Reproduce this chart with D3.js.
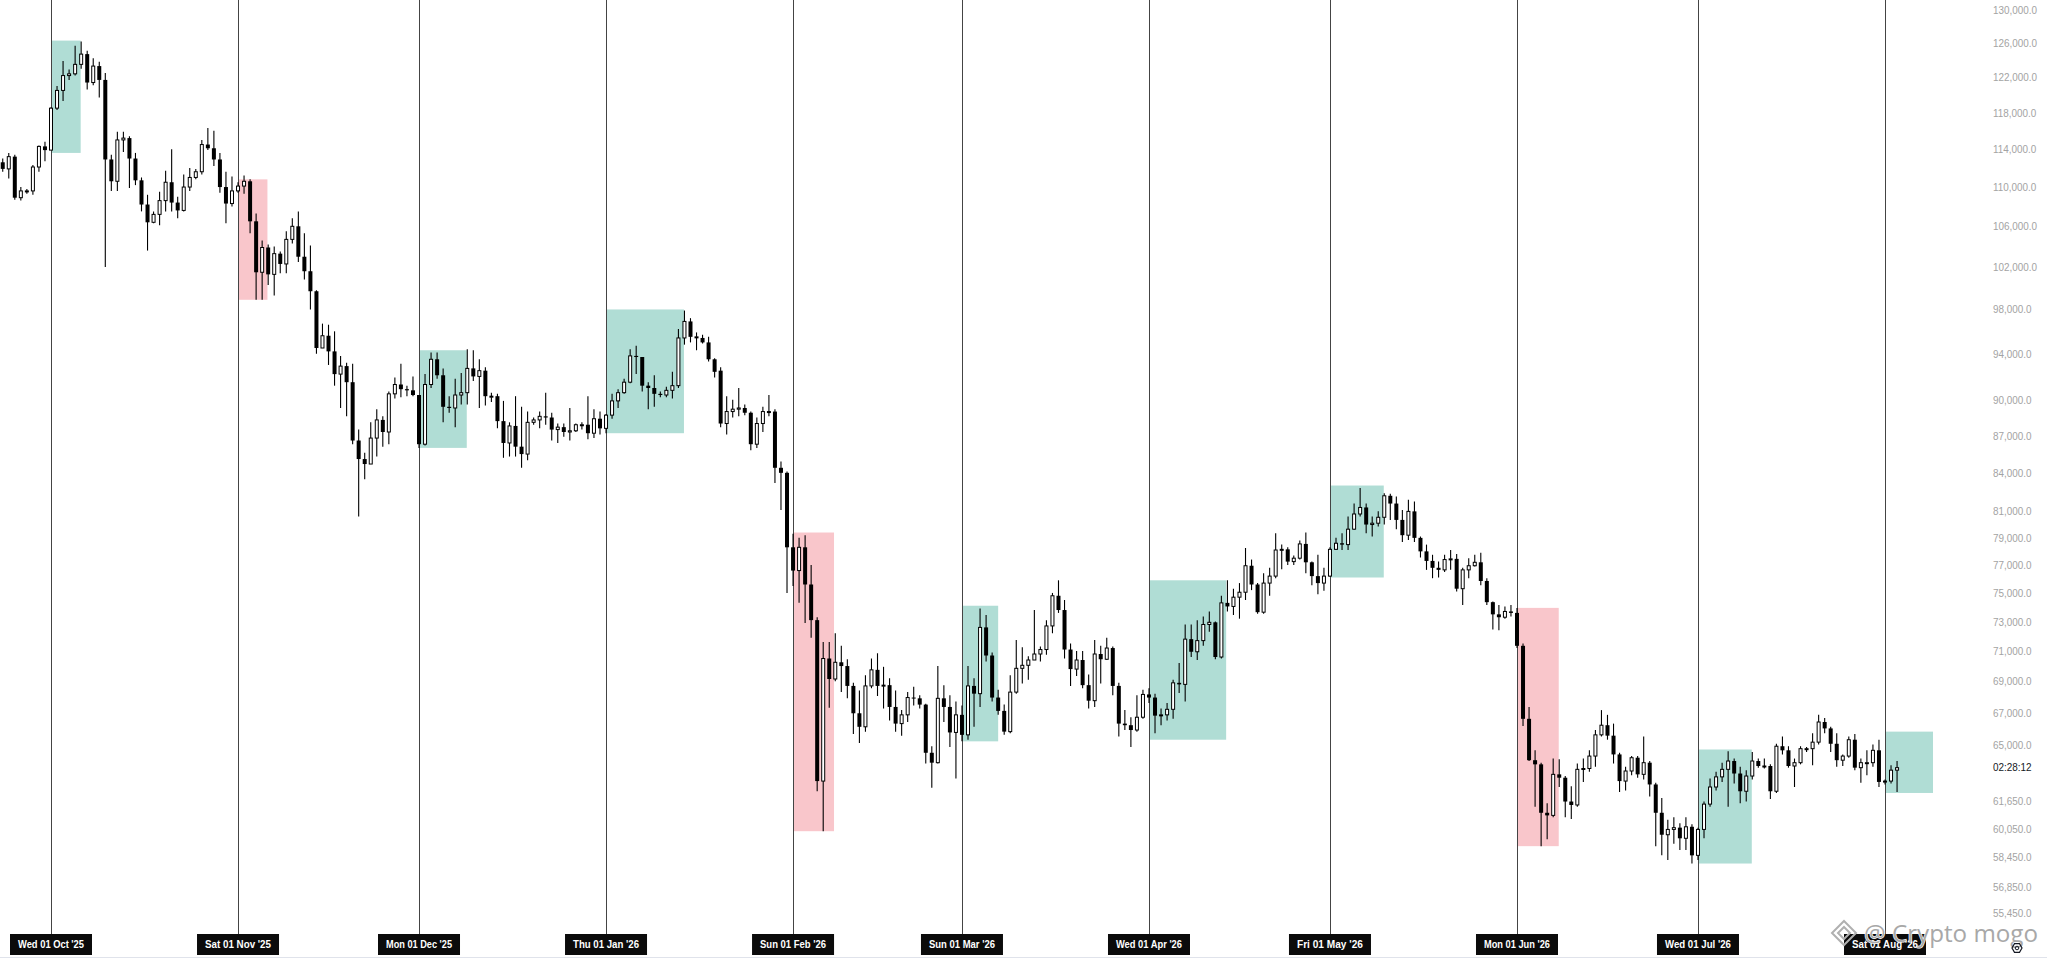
<!DOCTYPE html>
<html>
<head>
<meta charset="utf-8">
<script src="https://d3js.org/d3.v7.min.js"></script>
<style>
  html, body { margin: 0; padding: 0; background: #fff; }
  svg { display: block; }
</style>
</head>
<body>
<svg id="chart"></svg>
<script>
// Daily candles, prices in thousands of USD: [open, high, low, close]
const firstDay = "2025-09-23";

const sep25 = [
  [112.6,113.0,111.6,111.9],[111.9,113.6,110.9,113.2],[113.2,113.4,108.7,108.9],[108.9,110.0,108.6,109.6],
  [109.6,109.8,109.3,109.6],[109.6,112.3,109.2,112.1],[112.1,114.4,111.6,114.3],[114.3,114.8,112.7,113.9]
];
const oct25 = [
  [113.9,118.6,113.9,118.5],[118.5,121.0,118.3,120.5],[120.5,123.9,119.3,122.2],[122.2,122.9,121.7,122.4],
  [122.4,125.7,122.2,123.5],[123.5,126.2,123.0,124.7],[124.7,125.1,120.6,121.4],[121.4,124.2,121.1,123.3],
  [123.3,123.8,119.7,121.7],[121.7,122.5,102.0,112.9],[112.9,113.4,109.6,110.6],[110.6,115.9,109.6,115.0],
  [115.0,115.9,113.7,115.2],[115.2,115.4,109.9,113.0],[113.0,113.6,110.2,110.7],[110.7,111.0,107.5,108.2],
  [108.2,109.2,103.6,106.4],[106.4,107.5,106.3,107.2],[107.2,109.5,106.1,108.6],[108.6,111.7,107.5,110.5],
  [110.5,114.0,107.5,108.4],[108.4,109.0,106.8,107.6],[107.6,111.3,107.5,110.0],[110.0,112.0,109.6,111.0],
  [111.0,111.9,110.8,111.6],[111.6,115.0,111.3,114.5],[114.5,116.3,113.9,114.1],[114.1,116.0,112.2,112.9],
  [112.9,113.6,109.4,110.0],[110.0,111.6,106.3,108.3],[108.3,111.1,108.0,109.6]
];
const nov25 = [
  [109.6,110.5,109.4,110.1],[110.1,111.2,109.3,110.6],[110.6,110.8,105.3,106.5],[106.5,107.3,98.9,101.5],
  [101.5,104.6,98.9,103.9],[103.9,104.2,100.3,101.3],[101.3,104.0,99.3,103.3],[103.3,103.5,101.4,102.3],
  [102.3,105.5,101.4,104.7],[104.7,106.8,104.3,106.0],[106.0,107.5,102.5,103.0],[103.0,105.3,100.8,101.6],
  [101.6,104.1,98.0,99.7],[99.7,99.8,94.0,94.5],[94.5,96.7,94.5,95.6],[95.6,96.6,93.0,94.2],
  [94.2,96.0,91.2,92.2],[92.2,93.8,89.3,92.9],[92.9,93.2,88.6,91.5],[91.5,93.1,86.3,86.6],
  [86.6,87.5,80.6,85.1],[85.1,85.6,83.5,84.7],[84.7,88.1,84.7,86.8],[86.8,89.2,85.3,88.3],
  [88.3,88.6,86.1,87.3],[87.3,90.7,86.3,90.5],[90.5,91.9,90.1,91.3],[91.3,93.1,90.2,90.9],
  [90.9,91.2,90.3,90.8],[90.8,92.0,90.3,90.4]
];
const dec25 = [
  [90.4,90.4,86.0,86.3],[86.3,92.2,86.2,91.3],[91.3,94.1,91.0,93.5],[93.5,94.1,91.8,92.1],
  [92.1,92.7,88.1,89.4],[89.4,90.3,88.9,89.3],[89.3,91.8,87.7,90.4],[90.4,92.3,89.6,90.6],
  [90.6,94.4,89.6,92.7],[92.7,94.3,91.6,92.0],[92.0,93.5,89.3,92.5],[92.5,92.8,89.5,90.3],
  [90.3,90.6,89.8,90.3],[90.3,90.5,87.6,88.2],[88.2,89.9,85.2,86.4],[86.4,88.1,85.3,87.8],
  [87.8,90.3,85.3,86.1],[86.1,89.4,84.4,85.5],[85.5,89.0,85.0,88.1],[88.1,88.5,87.9,88.3],
  [88.3,89.0,87.6,88.6],[88.6,90.6,87.9,88.5],[88.5,88.9,86.6,87.5],[87.5,88.0,86.4,87.7],
  [87.7,88.0,86.9,87.3],[87.3,89.3,86.6,87.4],[87.4,88.0,87.3,87.9],[87.9,88.1,87.5,87.9],
  [87.9,90.3,86.7,87.2],[87.2,89.2,86.8,88.4],[88.4,89.0,87.1,87.6]
];
const jan26 = [
  [87.6,88.8,87.2,88.7],[88.7,90.5,88.4,89.9],[89.9,90.9,89.3,90.6],[90.6,91.8,90.5,91.5],
  [91.5,94.4,91.4,93.8],[93.8,94.7,92.2,93.7],[93.7,93.7,90.7,91.2],[91.2,91.5,89.2,91.0],
  [91.0,92.1,89.4,90.5],[90.5,90.7,90.2,90.4],[90.4,91.1,90.2,90.8],[90.8,92.4,90.1,91.2],
  [91.2,96.2,91.0,95.4],[95.4,97.9,94.8,96.9],[96.9,97.2,95.0,95.5],[95.5,95.9,94.3,95.5],
  [95.4,95.7,94.9,95.0],[95.0,95.5,93.3,93.5],[93.5,93.6,91.9,92.4],[92.5,92.8,87.7,88.0],
  [88.0,90.3,87.1,89.0],[89.0,90.0,88.5,89.2],[89.2,91.0,88.6,89.3],[89.3,89.6,88.7,88.9],
  [88.9,89.0,85.8,86.3],[86.3,88.5,86.0,88.0],[88.0,89.4,87.3,89.0],[89.0,90.4,88.6,89.0],
  [89.0,89.2,83.2,84.4],[84.4,84.9,81.1,84.0],[84.0,84.1,75.0,78.3]
];
const feb26 = [
  [78.3,79.3,75.5,76.6],[76.6,79.0,74.3,78.3],[78.3,79.2,72.9,75.6],[75.6,77.0,71.9,73.1],
  [73.1,73.3,62.2,62.8],[62.8,71.6,59.9,70.5],[70.5,71.6,67.3,69.15],[69.15,72.2,69.0,70.25],
  [70.25,71.35,68.3,70.0],[70.0,70.45,67.9,68.7],[68.7,68.9,65.65,66.95],[66.95,68.4,65.1,66.1],
  [66.1,69.4,65.8,68.7],[68.7,70.5,68.55,69.75],[69.75,70.85,68.05,68.7],[68.7,69.95,67.25,68.75],
  [68.75,69.2,66.5,67.35],[67.35,68.4,65.8,66.3],[66.3,67.15,65.55,66.85],[66.85,68.3,66.4,67.95],
  [67.95,68.65,67.45,67.9],[67.9,68.1,67.25,67.5],[67.5,67.55,63.85,64.5],[64.5,64.9,62.4,63.9],
  [63.9,70.0,63.85,67.9],[67.9,68.75,66.4,67.35],[67.35,68.1,64.85,65.75],[65.75,67.7,62.95,66.85]
];
const mar26 = [
  [66.85,67.45,65.2,65.6],[65.6,70.0,65.3,68.7],[68.7,69.2,66.1,68.2],[68.2,73.9,67.35,72.6],
  [72.6,73.45,70.3,70.7],[70.7,70.9,67.7,67.95],[67.95,68.45,66.85,67.1],[67.1,67.5,65.6,65.8],
  [65.8,69.4,65.7,68.3],[68.3,71.75,68.2,69.85],[69.85,71.25,68.85,70.05],[70.05,70.65,69.1,70.4],
  [70.4,73.8,70.4,70.8],[70.8,71.3,70.3,71.1],[71.1,73.1,70.75,72.7],[72.7,75.0,72.2,74.8],
  [74.8,75.9,73.6,73.8],[73.8,74.5,70.5,71.1],[71.1,71.5,68.7,69.8],[69.8,71.0,69.35,70.4],
  [70.4,71.0,68.55,68.75],[68.75,69.45,67.25,67.75],[67.75,71.75,67.35,70.8],[70.8,71.35,68.85,70.45],
  [70.45,71.9,70.4,71.2],[71.2,71.3,68.1,68.7],[68.7,68.9,65.5,66.3],[66.3,67.15,65.9,66.2],
  [66.2,66.7,64.85,65.9],[65.9,68.1,65.8,66.7],[66.7,68.45,66.6,68.15]
];
const apr26 = [
  [68.15,68.55,67.6,67.95],[67.95,68.2,65.7,66.8],[66.8,67.25,66.2,66.85],[66.85,67.6,66.5,67.2],
  [67.2,69.1,66.6,68.9],[68.9,70.2,68.25,68.8],[68.8,72.8,67.7,71.8],[71.8,72.8,70.6,70.95],
  [70.95,73.1,70.4,71.7],[71.7,73.35,71.35,72.8],[72.8,73.7,72.3,72.95],[72.95,73.0,70.45,70.6],
  [70.6,74.8,70.5,74.3],[74.3,75.9,73.7,74.05],[74.05,75.3,73.45,74.7],[74.7,75.7,73.2,75.05],
  [75.05,78.25,74.5,76.95],[76.95,77.4,75.2,75.6],[75.6,75.7,73.55,73.65],[73.65,76.4,73.55,75.7],
  [75.7,76.8,74.8,76.2],[76.2,79.35,76.05,78.1],[78.1,78.5,76.7,78.15],[78.15,78.3,77.0,77.25],
  [77.25,77.7,77.0,77.5],[77.5,78.8,77.4,78.55],[78.55,79.4,76.4,77.2],[77.2,77.25,75.55,76.2],
  [76.2,77.75,74.9,75.7],[75.7,76.8,75.15,76.2]
];
const may26 = [
  [76.2,78.3,76.15,78.15],[78.15,79.0,78.1,78.6],[78.6,79.35,78.1,78.5],[78.5,80.6,78.1,79.65],
  [79.65,81.6,79.6,80.8],[80.8,82.8,80.6,81.3],[81.3,81.6,79.35,80.0],[80.0,80.6,79.1,80.1],
  [80.1,81.0,79.85,80.55],[80.55,82.4,80.0,82.2],[82.2,82.35,80.35,81.6],[81.6,82.15,79.65,80.35],
  [80.35,81.1,78.7,79.2],[79.2,81.9,78.85,81.0],[81.0,81.75,78.7,79.0],[79.0,79.1,77.55,78.0],
  [78.0,78.5,76.65,77.3],[77.3,77.75,76.05,76.8],[76.8,77.25,76.1,76.65],[76.65,77.75,76.5,77.4],
  [77.4,78.1,76.65,77.45],[77.45,77.8,75.1,75.3],[75.3,76.8,74.15,76.65],[76.65,77.5,76.05,76.95],
  [76.95,77.75,76.9,77.2],[77.2,77.9,75.55,75.85],[75.85,76.05,74.15,74.35],[74.35,74.4,72.45,73.5],
  [73.5,74.15,72.4,73.3],[73.3,74.05,73.2,73.7],[73.7,74.15,73.35,73.6]
];
const jun26 = [
  [73.6,73.95,71.2,71.35],[71.35,71.5,66.15,66.6],[66.6,67.35,64.0,64.05],[64.05,64.65,61.3,63.8],
  [63.8,63.9,59.05,60.95],[60.95,61.5,59.45,60.8],[60.8,64.15,60.7,63.2],[63.2,64.1,62.45,63.0],
  [63.0,63.1,60.7,61.6],[61.6,62.5,60.6,61.4],[61.4,63.85,61.3,63.5],[63.5,64.15,62.75,63.55],
  [63.55,64.65,63.35,64.3],[64.3,65.9,63.65,65.6],[65.6,67.15,65.5,66.2],[66.2,66.85,65.3,65.55],
  [65.55,66.3,63.85,64.4],[64.4,64.5,62.15,62.8],[62.8,63.65,62.25,63.4],[63.4,64.3,63.15,64.2],
  [64.2,64.3,63.0,63.2],[63.2,65.5,62.9,63.9],[63.9,64.0,61.9,62.6],[62.6,62.7,59.05,60.95],
  [60.95,61.8,58.55,59.7],[59.7,60.55,58.3,60.0],[60.0,60.7,59.2,60.1],[60.1,60.35,58.85,59.5],
  [59.5,60.7,58.85,60.15],[60.15,60.3,58.1,58.55]
];
const jul26 = [
  [58.55,60.1,58.3,60.0],[60.0,61.6,59.5,61.45],[61.45,62.95,61.3,62.45],[62.45,63.35,62.25,63.05],
  [63.05,63.9,62.75,63.5],[63.5,64.6,61.3,64.0],[64.0,64.15,62.65,63.25],[63.25,63.65,61.5,62.2],
  [62.2,63.45,61.6,63.1],[63.1,64.55,62.9,64.0],[64.0,64.15,63.6,63.7],[63.7,64.15,63.55,63.7],
  [63.7,63.8,61.75,62.2],[62.2,65.05,62.1,64.9],[64.9,65.5,64.4,64.65],[64.65,64.9,63.6,63.7],
  [63.7,64.15,62.45,63.9],[63.9,64.9,63.8,64.75],[64.75,64.85,64.55,64.75],[64.75,65.7,63.75,65.15],
  [65.15,66.85,65.0,66.4],[66.4,66.65,65.7,66.0],[66.0,66.1,64.55,65.05],[65.05,65.7,63.65,64.05],
  [64.05,64.4,63.7,64.3],[64.3,65.5,64.2,65.3],[65.3,65.65,63.45,63.6],[63.6,64.15,62.7,63.9],
  [63.9,64.65,63.15,63.9],[63.9,65.0,63.65,64.65],[64.65,65.3,62.45,62.75]
];
const aug26 = [
  [62.75,62.9,62.6,62.8],[62.8,63.75,62.65,63.45],[63.45,64.0,62.15,63.6]
];

// month separators and their labels
const monthStarts = ["2025-10-01","2025-11-01","2025-12-01","2026-01-01","2026-02-01","2026-03-01",
                     "2026-04-01","2026-05-01","2026-06-01","2026-07-01","2026-08-01"];

// opening-range boxes of each month (high / low in thousands)
const boxes = [
  { from: "2025-10-01", to: "2025-10-05T22:00Z", high: 126.3, low: 113.6, up: true },
  { from: "2025-11-01", to: "2025-11-05T21:00Z", high: 110.8, low: 98.9,  up: false },
  { from: "2025-12-01", to: "2025-12-08T22:00Z", high: 94.3,  low: 86.0,  up: true },
  { from: "2026-01-01", to: "2026-01-13T22:00Z", high: 98.0,  low: 87.2,  up: true },
  { from: "2026-02-01", to: "2026-02-07T19:00Z", high: 79.4,  low: 59.9,  up: false },
  { from: "2026-03-01", to: "2026-03-07T00:00Z", high: 74.1,  low: 65.2,  up: true },
  { from: "2026-04-01", to: "2026-04-13T19:00Z", high: 75.9,  low: 65.3,  up: true },
  { from: "2026-05-01", to: "2026-05-09T22:00Z", high: 83.0,  low: 76.1,  up: true },
  { from: "2026-06-01", to: "2026-06-07T22:00Z", high: 73.95, low: 59.06, up: false },
  { from: "2026-07-01", to: "2026-07-09T22:00Z", high: 64.7,  low: 58.1,  up: true },
  { from: "2026-08-01", to: "2026-08-08T23:00Z", high: 65.8,  low: 62.1,  up: true }
];

const priceTicks = [130, 126, 122, 118, 114, 110, 106, 102, 98, 94, 90, 87, 84, 81, 79, 77, 75,
                    73, 71, 69, 67, 65, 61.65, 60.05, 58.45, 56.85, 55.45];
const countdownText = "02:28:12";
const countdownPrice = 63.62;
const watermarkText = "@ Crypto mogo";

const W = 2047, H = 960;
const uiFont = "'Liberation Sans', Arial, sans-serif";

const svg = d3.select("#chart").attr("width", W).attr("height", H);
svg.append("rect").attr("width", W).attr("height", H).attr("fill", "#ffffff");

const months = [sep25, oct25, nov25, dec25, jan26, feb26, mar26, apr26, may26, jun26, jul26, aug26];
const start = new Date(firstDay);
const candles = [].concat(...months).map((d, i) => ({
  date: d3.utcDay.offset(start, i), o: d[0], h: d[1], l: d[2], c: d[3]
}));

const x = d3.scaleUtc()
  .domain([new Date("2025-10-01"), new Date("2026-08-01")])
  .range([51, 1885]);
const y = d3.scaleLog().domain([55.45, 130]).range([913, 10]);

// squeeze a text to a fraction of its natural width
function squeeze(sel, k) {
  sel.each(function () {
    const w = this.getComputedTextLength();
    d3.select(this).attr("textLength", w * k).attr("lengthAdjust", "spacingAndGlyphs");
  });
}

// boxes
svg.append("g").selectAll("rect")
  .data(boxes)
  .enter()
  .append("rect")
  .attr("x", (d) => x(new Date(d.from)))
  .attr("width", (d) => x(new Date(d.to)) - x(new Date(d.from)))
  .attr("y", (d) => y(d.high))
  .attr("height", (d) => y(d.low) - y(d.high))
  .attr("fill", (d) => (d.up ? "#b0ddd5" : "#f9c6cb"));

// month lines
svg.append("g").selectAll("line")
  .data(monthStarts)
  .enter()
  .append("line")
  .attr("x1", (d) => Math.round(x(new Date(d))) + 0.5)
  .attr("x2", (d) => Math.round(x(new Date(d))) + 0.5)
  .attr("y1", 0)
  .attr("y2", 934)
  .attr("stroke", "#444")
  .attr("stroke-width", 1);

// candles
const bodyW = 4;
const candle = svg.append("g").selectAll("g")
  .data(candles)
  .enter()
  .append("g");

candle.append("line")
  .attr("x1", (d) => x(d.date))
  .attr("x2", (d) => x(d.date))
  .attr("y1", (d) => y(d.h))
  .attr("y2", (d) => y(d.l))
  .attr("stroke", "#000")
  .attr("stroke-width", 1.1);

candle.append("rect")
  .attr("x", (d) => x(d.date) - bodyW / 2 + (d.c >= d.o ? 0.5 : 0))
  .attr("width", (d) => (d.c >= d.o ? bodyW - 1 : bodyW))
  .attr("y", (d) => y(Math.max(d.o, d.c)))
  .attr("height", (d) => Math.max(1, Math.abs(y(d.o) - y(d.c))))
  .attr("fill", (d) => (d.c >= d.o ? "#fff" : "#000"))
  .attr("stroke", "#000")
  .attr("stroke-width", (d) => (d.c >= d.o ? 1 : 0));

// price scale
const axis = svg.append("g")
  .attr("transform", "translate(1990,0)")
  .call(d3.axisRight(y)
    .tickValues(priceTicks)
    .tickSize(0)
    .tickPadding(3)
    .tickFormat((v) => d3.format(",.1f")(v * 1000)));
axis.select(".domain").remove();
axis.selectAll("text")
  .attr("fill", "#a3a3a3")
  .style("font-family", uiFont)
  .style("font-size", "11px")
  .call(squeeze, 0.9);

svg.append("text")
  .attr("x", 1993)
  .attr("y", y(countdownPrice) + 1)
  .attr("dominant-baseline", "middle")
  .attr("fill", "#131722")
  .style("font-family", uiFont)
  .style("font-size", "11px")
  .text(countdownText)
  .call(squeeze, 0.9);

// time labels
const fmt = d3.utcFormat("%a %d %b '%y");
const lab = svg.append("g").selectAll("g")
  .data(monthStarts)
  .enter()
  .append("g")
  .attr("transform", (d) => `translate(${x(new Date(d))},934)`);
lab.append("rect")
  .attr("x", -41)
  .attr("width", 82)
  .attr("height", 21)
  .attr("fill", "#0b0b0b");
lab.append("text")
  .attr("y", 11)
  .attr("text-anchor", "middle")
  .attr("dominant-baseline", "middle")
  .attr("fill", "#fff")
  .style("font-family", uiFont)
  .style("font-size", "11.5px")
  .style("font-weight", "bold")
  .text((d) => fmt(new Date(d)))
  .each(function () {
    d3.select(this).attr("textLength", 66).attr("lengthAdjust", "spacingAndGlyphs");
  });

// bottom border
svg.append("line")
  .attr("x1", 0).attr("x2", W)
  .attr("y1", 957.5).attr("y2", 957.5)
  .attr("stroke", "#e0e3eb");

// watermark (sits over the last time label, as in the source)
const wm = svg.append("g");
wm.append("path")
  .attr("d", "M1844,921 L1856,933 L1844,945 L1832,933 Z M1844,927 L1850,933 L1844,939 L1838,933 Z")
  .attr("fill", "none")
  .attr("stroke", "#b0b0b0")
  .attr("stroke-width", 2);
wm.append("text")
  .attr("x", 1864)
  .attr("y", 942)
  .attr("fill", "#a8a8a8")
  .attr("stroke", "#ffffff")
  .attr("stroke-width", 1.2)
  .attr("paint-order", "stroke")
  .style("font-family", "'Open Sans', 'Noto Sans', sans-serif")
  .style("font-weight", "400")
  .style("font-size", "23px")
  .text(watermarkText)
  .attr("textLength", 174)
  .attr("lengthAdjust", "spacingAndGlyphs");

// settings icon
svg.append("path")
  .attr("d", d3.range(6).map((i) => {
    const a = Math.PI / 3 * i;
    return (i ? "L" : "M") + (2017 + 5 * Math.cos(a)) + "," + (948 + 5 * Math.sin(a));
  }).join("") + "Z")
  .attr("fill", "none").attr("stroke", "#131722").attr("stroke-width", 1.2);
svg.append("circle").attr("cx", 2017).attr("cy", 948).attr("r", 1.8)
  .attr("fill", "none").attr("stroke", "#131722").attr("stroke-width", 1);
</script>
</body>
</html>
